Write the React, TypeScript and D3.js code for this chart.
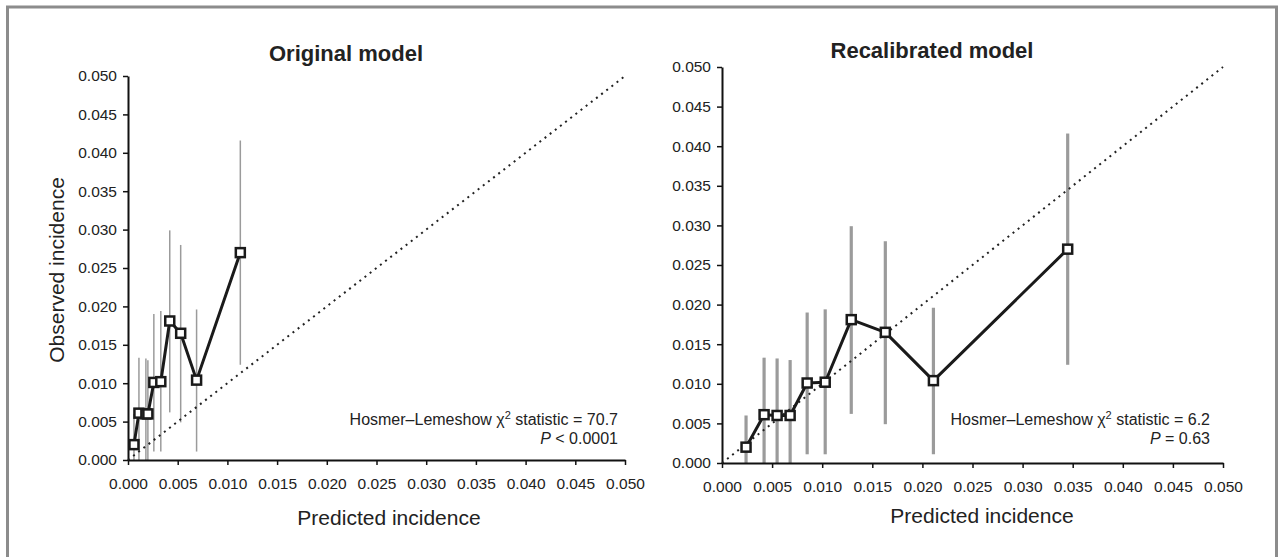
import React, { useEffect, useRef } from "react";
import * as d3 from "d3";

// axis ticks shared by both panels
const tickValues = [0, 0.005, 0.01, 0.015, 0.02, 0.025, 0.03, 0.035, 0.04, 0.045, 0.05];
const tickLabels = ["0.000", "0.005", "0.010", "0.015", "0.020", "0.025", "0.030", "0.035", "0.040", "0.045", "0.050"];

// observed incidence per risk group (same groups in both panels)
const observed = [0.002, 0.0061, 0.006, 0.006, 0.0101, 0.0102, 0.0181, 0.0165, 0.0104, 0.027];
const observedLower = [0.0, 0.0, 0.0, 0.0, 0.0011, 0.0011, 0.0062, 0.0049, 0.0011, 0.0124];
const observedUpper = [0.006, 0.0133, 0.0132, 0.013, 0.019, 0.0194, 0.0299, 0.028, 0.0196, 0.0416];

// predicted incidence
const predictedOriginal = [0.0006, 0.0011, 0.0018, 0.002, 0.0026, 0.0033, 0.0042, 0.0053, 0.0069, 0.0113];
const predictedRecalibrated = [0.0024, 0.0042, 0.0055, 0.0068, 0.0085, 0.0103, 0.0129, 0.0163, 0.0211, 0.0345];

const titles = ["Original model", "Recalibrated model"];
const hlStats = ["70.7", "6.2"];
const pTexts = ["< 0.0001", "= 0.63"];

const FONT = "'Liberation Sans', Arial, sans-serif";

const App: React.FC = () => {
  const svgRef = useRef<SVGSVGElement | null>(null);

  useEffect(() => {
    const svg = d3.select(svgRef.current);
    svg.selectAll("*").remove();

    // outer frame
    svg
      .append("rect")
      .attr("x", 7.5)
      .attr("y", 7)
      .attr("width", 1269)
      .attr("height", 600)
      .attr("fill", "none")
      .attr("stroke", "#8c8c8c")
      .attr("stroke-width", 3);

    const panels = [
      {
        left: 128, right: 625, top: 76, bottom: 460,
        titleX: 346, titleY: 53, xLabelX: 389, xLabelY: 517,
        annX: 618, predicted: predictedOriginal, barWidth: 1.5,
      },
      {
        left: 722, right: 1223, top: 67, bottom: 463,
        titleX: 932, titleY: 50, xLabelX: 982, xLabelY: 515,
        annX: 1210, predicted: predictedRecalibrated, barWidth: 3.2,
      },
    ];

    panels.forEach((p, i) => {
      const x = d3.scaleLinear().domain([0, 0.05]).range([p.left, p.right]);
      const y = d3.scaleLinear().domain([0, 0.05]).range([p.bottom, p.top]);
      const g = svg.append("g");

      const data = observed.map((o, k) => ({
        px: p.predicted[k],
        obs: o,
        lo: observedLower[k],
        hi: observedUpper[k],
      }));

      // error bars
      g.selectAll("line.err")
        .data(data)
        .enter()
        .append("line")
        .attr("x1", (d) => x(d.px))
        .attr("x2", (d) => x(d.px))
        .attr("y1", (d) => y(d.lo))
        .attr("y2", (d) => y(d.hi))
        .attr("stroke", "#9b9b9b")
        .attr("stroke-width", p.barWidth);

      // x axis
      const xAxis = g
        .append("g")
        .attr("transform", `translate(0,${p.bottom})`)
        .call(
          d3.axisBottom(x)
            .tickValues(tickValues)
            .tickFormat((_, k) => tickLabels[k])
            .tickSizeInner(5)
            .tickSizeOuter(0)
            .tickPadding(13)
        );

      // y axis
      const yAxis = g
        .append("g")
        .attr("transform", `translate(${p.left},0)`)
        .call(
          d3.axisLeft(y)
            .tickValues(tickValues)
            .tickFormat((_, k) => tickLabels[k])
            .tickSizeInner(5)
            .tickSizeOuter(0)
            .tickPadding(6)
        );

      [xAxis, yAxis].forEach((ax) => {
        ax.select(".domain").attr("stroke", "#111").attr("stroke-width", 2);
        ax.selectAll(".tick line").attr("stroke", "#111").attr("stroke-width", 1.5);
        ax.selectAll(".tick text")
          .attr("font-family", FONT)
          .attr("font-size", 15.5)
          .attr("fill", "#222");
      });

      // reference diagonal
      g.append("line")
        .attr("x1", x(0))
        .attr("y1", y(0))
        .attr("x2", x(0.05))
        .attr("y2", y(0.05))
        .attr("stroke", "#222")
        .attr("stroke-width", 2)
        .attr("stroke-dasharray", "2 4.5");

      // observed vs predicted line
      const line = d3
        .line<{ px: number; obs: number }>()
        .x((d) => x(d.px))
        .y((d) => y(d.obs));

      g.append("path")
        .datum(data)
        .attr("d", line)
        .attr("fill", "none")
        .attr("stroke", "#1a1a1a")
        .attr("stroke-width", 3)
        .attr("stroke-linejoin", "round");

      // square markers
      const s = 9;
      g.selectAll("rect.pt")
        .data(data)
        .enter()
        .append("rect")
        .attr("x", (d) => x(d.px) - s / 2)
        .attr("y", (d) => y(d.obs) - s / 2)
        .attr("width", s)
        .attr("height", s)
        .attr("fill", "#fff")
        .attr("stroke", "#1a1a1a")
        .attr("stroke-width", 2.5);

      // title
      g.append("text")
        .attr("x", p.titleX)
        .attr("y", p.titleY)
        .attr("text-anchor", "middle")
        .attr("dominant-baseline", "central")
        .attr("font-family", FONT)
        .attr("font-weight", "bold")
        .attr("font-size", 22)
        .attr("fill", "#222")
        .text(titles[i]);

      // x label
      g.append("text")
        .attr("x", p.xLabelX)
        .attr("y", p.xLabelY)
        .attr("text-anchor", "middle")
        .attr("dominant-baseline", "central")
        .attr("font-family", FONT)
        .attr("font-size", 21)
        .attr("fill", "#222")
        .text("Predicted incidence");

      // Hosmer-Lemeshow annotation
      const ann = g
        .append("text")
        .attr("x", p.annX)
        .attr("y", 425)
        .attr("text-anchor", "end")
        .attr("font-family", FONT)
        .attr("font-size", 16)
        .attr("fill", "#222");
      ann.append("tspan").text("Hosmer\u2013Lemeshow \u03c7");
      ann.append("tspan").attr("font-size", 11).attr("dy", -6).text("2");
      ann.append("tspan").attr("dy", 6).text(` statistic = ${hlStats[i]}`);

      const pt = g
        .append("text")
        .attr("x", p.annX)
        .attr("y", 444)
        .attr("text-anchor", "end")
        .attr("font-family", FONT)
        .attr("font-size", 16)
        .attr("fill", "#222");
      pt.append("tspan").attr("font-style", "italic").text("P");
      pt.append("tspan").text(` ${pTexts[i]}`);
    });

    // y label (left panel only)
    svg
      .append("text")
      .attr("transform", "translate(56,270) rotate(-90)")
      .attr("text-anchor", "middle")
      .attr("dominant-baseline", "central")
      .attr("font-family", FONT)
      .attr("font-size", 21)
      .attr("fill", "#222")
      .text("Observed incidence");
  }, []);

  return (
    <svg
      ref={svgRef}
      width={1279}
      height={557}
      style={{ position: "absolute", left: 0, top: 0, background: "#fff" }}
    ></svg>
  );
};

export default App;
